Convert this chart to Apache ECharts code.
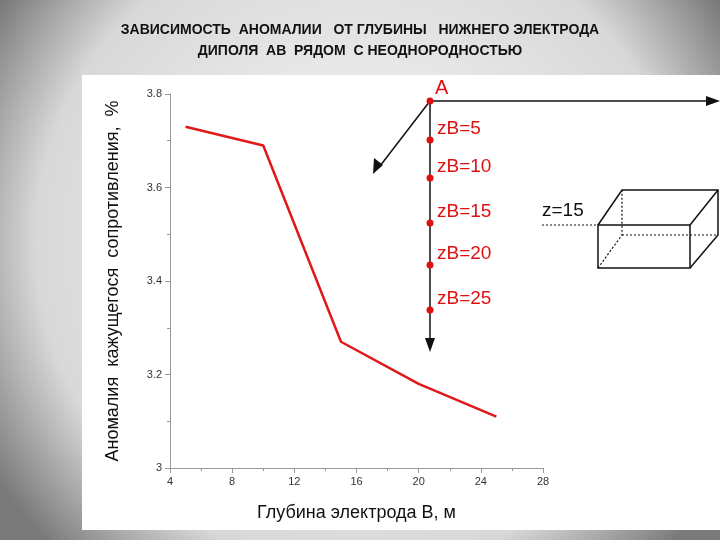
<!DOCTYPE html>
<html><head><meta charset="utf-8">
<script src="https://cdn.jsdelivr.net/npm/echarts@6/dist/echarts.min.js"></script>
<style>html,body{margin:0;padding:0;}#c{width:720px;height:540px;}</style>
</head><body><div id="c"></div>
<script>
const depths = [5, 10, 15, 20, 25];
const anomaly = [3.73, 3.69, 3.27, 3.18, 3.11];
const zLabels = ['zB=5', 'zB=10', 'zB=15', 'zB=20', 'zB=25'];
const zY = [140, 178, 223, 265, 310];

const chart = echarts.init(document.getElementById('c'));
const graphics = [
  {type:'rect', z:-10, shape:{x:0,y:0,width:720,height:540}, style:{fill:{type:'radial',x:0.5,y:0.45,r:0.8,colorStops:[{offset:0,color:'#fafafa'},{offset:0.75,color:'#d8d8d8'},{offset:1,color:'#7a7a7a'}]}}},
  {type:'rect', z:-9, shape:{x:82,y:75,width:638,height:455}, style:{fill:'#fff'}},
  {type:'text', x:360, y:20, style:{text:'ЗАВИСИМОСТЬ  АНОМАЛИИ   ОТ ГЛУБИНЫ   НИЖНЕГО ЭЛЕКТРОДА\nДИПОЛЯ  АВ  РЯДОМ  С НЕОДНОРОДНОСТЬЮ', font:'bold 14px Liberation Sans', fill:'#111', align:'center', lineHeight:21}},
  {type:'line', shape:{x1:430,y1:101,x2:430,y2:345}, style:{stroke:'#111',lineWidth:1.5}},
  {type:'polygon', shape:{points:[[425,338],[435,338],[430,352]]}, style:{fill:'#111'}},
  {type:'line', shape:{x1:430,y1:101,x2:710,y2:101}, style:{stroke:'#111',lineWidth:1.5}},
  {type:'polygon', shape:{points:[[706,96],[706,106],[720,101]]}, style:{fill:'#111'}},
  {type:'line', shape:{x1:430,y1:101,x2:380,y2:166}, style:{stroke:'#111',lineWidth:1.5}},
  {type:'polygon', shape:{points:[[374,158],[383,165],[373,174]]}, style:{fill:'#111'}},
  {type:'circle', shape:{cx:430,cy:101,r:3.5}, style:{fill:'#d11'}},
  {type:'text', x:435, y:78, style:{text:'A', font:'20px Liberation Sans', fill:'#d11'}},
  {type:'text', x:542, y:201, style:{text:'z=15', font:'19px Liberation Sans', fill:'#111'}},
  {type:'line', shape:{x1:542,y1:225,x2:598,y2:225}, style:{stroke:'#111',lineWidth:1.2,lineDash:[2,2]}},
  {type:'polyline', shape:{points:[[598,225],[622,190],[718,190],[718,235],[690,268]]}, style:{stroke:'#111',lineWidth:1.5,fill:null}},
  {type:'rect', shape:{x:598,y:225,width:92,height:43}, style:{stroke:'#111',lineWidth:1.5,fill:null}},
  {type:'line', shape:{x1:690,y1:225,x2:718,y2:190}, style:{stroke:'#111',lineWidth:1.5}},
  {type:'polyline', shape:{points:[[598,268],[622,235],[622,190]]}, style:{stroke:'#111',lineWidth:1.2,lineDash:[2,2],fill:null}},
  {type:'line', shape:{x1:622,y1:235,x2:718,y2:235}, style:{stroke:'#111',lineWidth:1.2,lineDash:[2,2]}}
];
zLabels.forEach((t,i)=>{
  graphics.push({type:'circle', shape:{cx:430,cy:zY[i],r:3.5}, style:{fill:'#d11'}});
  graphics.push({type:'text', x:437, y:zY[i]-21, style:{text:t, font:'19px Liberation Sans', fill:'#d11'}});
});

chart.setOption({
  animation:false,
  graphic: graphics,
  grid:{left:170, top:94, width:373, height:374},
  xAxis:{type:'value', min:4, max:28, interval:4,
    name:'Глубина электрода B, м', nameLocation:'middle', nameGap:36,
    nameTextStyle:{fontSize:18, color:'#111', fontFamily:'Liberation Sans'},
    axisLine:{lineStyle:{color:'#999'}}, axisTick:{lineStyle:{color:'#999'}},
    minorTick:{show:true, splitNumber:2, lineStyle:{color:'#999'}},
    splitLine:{show:false}, axisLabel:{color:'#333', fontSize:11, fontFamily:'Liberation Sans'}},
  yAxis:{type:'value', min:3, max:3.8, interval:0.2,
    name:'Аномалия  кажущегося  сопротивления,  %', nameLocation:'middle', nameGap:48,
    nameTextStyle:{fontSize:18, color:'#111', fontFamily:'Liberation Sans'},
    axisLine:{show:true, lineStyle:{color:'#999'}}, axisTick:{show:true, lineStyle:{color:'#999'}},
    minorTick:{show:true, splitNumber:2, lineStyle:{color:'#999'}},
    splitLine:{show:false}, axisLabel:{color:'#333', fontSize:11, fontFamily:'Liberation Sans', formatter:v=>String(+v.toFixed(1))}},
  series:[{type:'line', data:depths.map((d,i)=>[d,anomaly[i]]), symbol:'none',
    lineStyle:{color:'#e01818', width:2.5}}]
});
</script></body></html>
